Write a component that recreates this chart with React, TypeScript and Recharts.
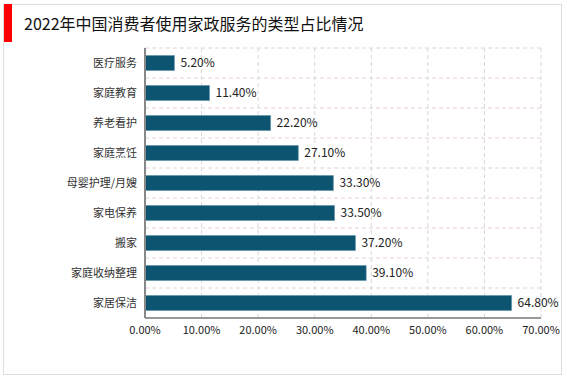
import { Bar, BarChart, CartesianGrid, LabelList, XAxis, YAxis } from "recharts";

const categories = ["医疗服务", "家庭教育", "养老看护", "家庭烹饪", "母婴护理/月嫂", "家电保养", "搬家", "家庭收纳整理", "家居保洁"];
const shares = [5.2, 11.4, 22.2, 27.1, 33.3, 33.5, 37.2, 39.1, 64.8];
const xTicks = [0, 10, 20, 30, 40, 50, 60, 70];

const data = categories.map((name, i) => ({ name, value: shares[i] }));

const FONT = "'Noto Sans CJK SC', 'Liberation Sans', sans-serif";

export default function App() {
  return (
    <div style={{ position: "relative", width: 567, height: 378, background: "#fff", fontFamily: FONT }}>
      <style>{"body{margin:0}"}</style>
      <div
        style={{
          position: "absolute",
          left: 3,
          top: 4,
          width: 557,
          height: 369,
          border: "1px solid #dedede",
        }}
      />
      <div style={{ position: "absolute", left: 4, top: 4, width: 8, height: 38, background: "#ff0000" }} />
      <div style={{ position: "absolute", left: 24, top: 12, fontSize: 16, color: "#111", lineHeight: "22px" }}>
        2022年中国消费者使用家政服务的类型占比情况
      </div>
      <div style={{ position: "absolute", left: 0, top: 0 }}>
        <BarChart
          width={567}
          height={378}
          data={data}
          layout="vertical"
          margin={{ top: 48, right: 26, bottom: 40, left: 0 }}
          barCategoryGap="25%"
        >
          {/* row separators sit between categories, slightly pink like the original */}
          <CartesianGrid
            vertical={false}
            stroke="#e8d0d8"
            strokeDasharray="4 3"
            horizontalCoordinatesGenerator={({ offset }: any) =>
              categories.map((_, i) => offset.top + (i * offset.height) / categories.length)
            }
          />
          <CartesianGrid horizontal={false} stroke="#d8d8d8" strokeDasharray="4 3" />
          <XAxis
            type="number"
            domain={[0, 70]}
            ticks={xTicks}
            tickFormatter={(v: number) => `${v.toFixed(2)}%`}
            tick={{ fontSize: 11, fill: "#222", fontFamily: FONT }}
            axisLine={{ stroke: "#999", strokeWidth: 2 }}
            tickLine={false}
            height={20}
          />
          <YAxis
            type="category"
            dataKey="name"
            width={145}
            tick={{ fontSize: 11, fill: "#333", fontFamily: FONT }}
            axisLine={{ stroke: "#888", strokeWidth: 2 }}
            tickLine={false}
          />
          <Bar dataKey="value" fill="#0d5471" stroke="#5d93a8" strokeWidth={0.6} isAnimationActive={false}>
            <LabelList
              dataKey="value"
              position="right"
              offset={6}
              formatter={(v: any) => `${Number(v).toFixed(2)}%`}
              style={{ fontSize: 12, fill: "#222", fontFamily: FONT }}
            />
          </Bar>
        </BarChart>
      </div>
    </div>
  );
}
